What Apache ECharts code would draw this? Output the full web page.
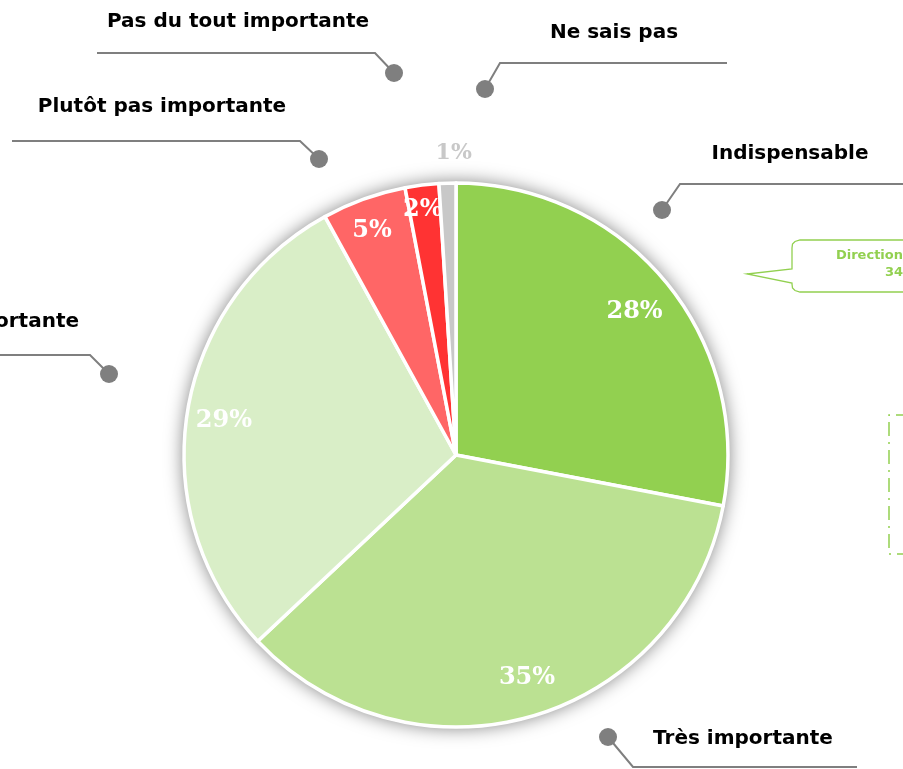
<!DOCTYPE html>
<html>
<head>
<meta charset="utf-8">
<script src="https://cdn.jsdelivr.net/npm/echarts@6/dist/echarts.min.js"></script>
<style>
  html, body { margin: 0; padding: 0; background: #fff; }
  #container { width: 903px; height: 769px; }
</style>
</head>
<body>
<div id="container"></div>
<script>
var dom = document.getElementById("container");
var myChart = echarts.init(dom, null, { renderer: "canvas" });
var option;

const categories = [
  "Indispensable",
  "Très importante",
  "Importante",
  "Plutôt pas importante",
  "Pas du tout importante",
  "Ne sais pas",
];
const percents = [28, 35, 29, 5, 2, 1];
const sliceColors = ["#92D050", "#BBE192", "#D9EEC7", "#FF6666", "#FF3333", "#C8C8C8"];

// small nudges for the percent labels (thin slices sit higher)
const labelNudge = [[-1, 5], [6, -1], [-2, 2], [-5, -5], [-4, -14], [5, -69]];

const center = [456, 455];
const R = 272;

// callouts: text anchor, leader polyline, dot
const callouts = [
  { i: 0, text: [790, 154, "center"], line: [[903, 184], [680, 184], [662, 210]] },
  { i: 1, text: [743, 739, "center"], line: [[857, 767], [633, 767], [608, 737]] },
  { i: 2, text: [79, 322, "right"], line: [[0, 355], [90, 355], [109, 374]] },
  { i: 3, text: [162, 107, "center"], line: [[12, 141], [300, 141], [319, 159]] },
  { i: 4, text: [238, 22, "center"], line: [[97, 53], [375, 53], [394, 73]] },
  { i: 5, text: [614, 33, "center"], line: [[727, 63], [500, 63], [485, 89]] },
];

const graphics = [];
callouts.forEach(function (c) {
  graphics.push({
    type: "polyline",
    shape: { points: c.line },
    style: { stroke: "#7F7F7F", lineWidth: 2, fill: null },
  });
  const end = c.line[c.line.length - 1];
  graphics.push({
    type: "circle",
    shape: { cx: end[0], cy: end[1], r: 9 },
    style: { fill: "#7F7F7F" },
  });
  graphics.push({
    type: "text",
    x: c.text[0],
    y: c.text[1],
    style: {
      text: categories[c.i],
      align: c.text[2],
      verticalAlign: "middle",
      font: "bold 20px 'DejaVu Sans'",
      fill: "#000",
    },
  });
});

// partial speech bubble at right edge
graphics.push({
  type: "polyline",
  shape: {
    points: [
      [910, 240], [800, 240], [795, 241.5], [792.5, 244], [792, 248],
      [792, 269], [747, 274], [792, 283],
      [792, 284], [792.5, 288], [795, 290.5], [800, 292], [910, 292],
    ],
  },
  style: { stroke: "#92D050", lineWidth: 1.3, fill: "#fff" },
});
graphics.push({
  type: "text",
  x: 903, y: 256,
  style: { text: "Direction", align: "right", verticalAlign: "middle", font: "bold 13px 'DejaVu Sans'", fill: "#92D050" },
});
graphics.push({
  type: "text",
  x: 903, y: 273,
  style: { text: "34", align: "right", verticalAlign: "middle", font: "bold 13px 'DejaVu Sans'", fill: "#92D050" },
});
// dashed box at right edge
graphics.push({
  type: "polyline",
  shape: { points: [[910, 415], [889, 415], [889, 554], [910, 554]] },
  style: { stroke: "#92D050", lineWidth: 1.5, fill: null, lineDash: [14, 6, 2, 6] },
});

option = {
  backgroundColor: "#fff",
  animation: false,
  series: [
    {
      // backdrop giving the soft shadow round the pie
      type: "pie",
      silent: true,
      center: center,
      radius: R + 1,
      z: 1,
      label: { show: false },
      labelLine: { show: false },
      itemStyle: {
        color: "#fff",
        shadowBlur: 18,
        shadowColor: "rgba(0,0,0,0.5)",
      },
      data: [{ value: 1, name: "" }],
    },
    {
      type: "pie",
      center: center,
      radius: R,
      startAngle: 90,
      clockwise: true,
      z: 2,
      label: { show: false },
      labelLine: { show: false },
      itemStyle: { borderColor: "#fff", borderWidth: 3.5 },
      data: categories.map(function (name, k) {
        return { name: name, value: percents[k], itemStyle: { color: sliceColors[k] } };
      }),
    },
    {
      // percent labels
      type: "pie",
      silent: true,
      center: center,
      radius: [188, R],
      startAngle: 90,
      clockwise: true,
      z: 3,
      itemStyle: { color: "transparent" },
      labelLine: { show: false },
      label: {
        show: true,
        position: "inside",
        formatter: "{c}%",
        fontFamily: "'DejaVu Serif'",
        fontWeight: "bold",
        fontSize: 24,
        color: "#fff",
      },
      labelLayout: function (params) {
        const n = labelNudge[params.dataIndex];
        return { dx: n[0], dy: n[1] };
      },
      data: categories.map(function (name, k) {
        const item = { name: name, value: percents[k] };
        if (k === 5) item.label = { color: "#C8C8C8", fontSize: 22 };
        return item;
      }),
    },
  ],
  graphic: { elements: graphics },
};

myChart.setOption(option);
window.addEventListener("resize", myChart.resize);
</script>
</body>
</html>
